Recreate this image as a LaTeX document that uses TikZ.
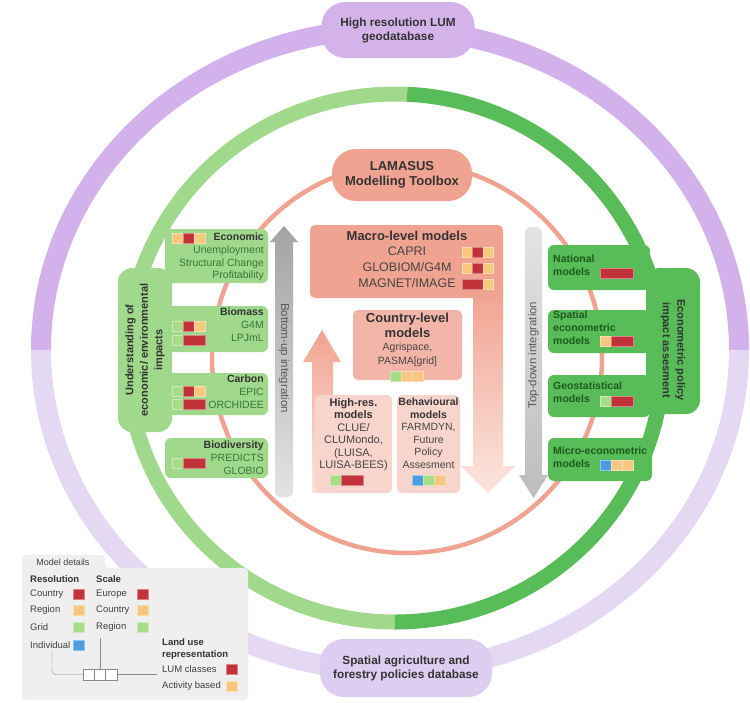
\documentclass[tikz,border=0pt]{standalone}
\usepackage{fontspec}
\setmainfont{Liberation Sans}
\usetikzlibrary{shapes.misc}
\definecolor{purA}{HTML}{D3B2EB}
\definecolor{purB}{HTML}{E5D8F3}
\definecolor{purP1}{HTML}{D4B3EA}
\definecolor{purP2}{HTML}{DDCDF0}
\definecolor{grL}{HTML}{A0D98C}
\definecolor{grD}{HTML}{58BC58}
\definecolor{salm}{HTML}{F1A391}
\definecolor{salmM}{HTML}{F3B5A7}
\definecolor{salmL}{HTML}{F7D5CC}
\definecolor{salmXL}{HTML}{FBE6DF}
\definecolor{cR}{HTML}{C2323A}
\definecolor{cO}{HTML}{F7C77F}
\definecolor{cG}{HTML}{A9DC86}
\definecolor{cB}{HTML}{4B9DE2}
\definecolor{tx}{HTML}{333333}
\definecolor{txI}{HTML}{454545}
\definecolor{txG}{HTML}{3A763A}
\definecolor{txD}{HTML}{1E5A20}
\definecolor{legbg}{HTML}{EFEFEF}
\definecolor{grayA}{HTML}{A3A3A3}
\definecolor{grayB}{HTML}{E3E3E3}
\definecolor{grayC}{HTML}{BDBDBD}
\definecolor{lline}{HTML}{8A8A8A}

\newcommand{\mcell}[4]{\path[fill=#4, draw=#4!60!white, line width=0.7pt] (#1,#2) rectangle ++(#3,10);}

\begin{document}
\begin{tikzpicture}[x=1pt,y=-1pt,
  pill/.style={rounded corners=24pt, inner sep=0pt, align=center, text=tx, font=\fontsize{11.8}{14}\selectfont\bfseries},
  lbox/.style={fill=grL, rounded corners=6pt, inner sep=0pt},
  rbox/.style={fill=grD, rounded corners=6pt, inner sep=0pt},
  cbox/.style={rounded corners=5pt, inner sep=0pt},
  ltext/.style={anchor=north east, align=right, inner sep=0pt, text=txG, font=\fontsize{10.5}{12.6}\selectfont},
  rtext/.style={anchor=north west, align=left, inner sep=0pt, text=txD, font=\fontsize{10.5}{13}\selectfont\bfseries},
  ctext/.style={anchor=north, align=center, inner sep=0pt, text=tx},
  arrtext/.style={inner sep=0pt, text=black!65, font=\fontsize{11.5}{13}\selectfont},
  legt/.style={anchor=west, inner sep=0pt, text=black!75, font=\fontsize{9.5}{11}\selectfont},
  legb/.style={anchor=west, inner sep=0pt, text=black!80, font=\fontsize{9.5}{11.5}\selectfont\bfseries, align=left},
  sch/.style={draw=lline, fill=white, minimum width=11.33pt, minimum height=11pt, inner sep=0pt},
]
\useasboundingbox (0,0) rectangle (750,702);
\fill[white] (0,0) rectangle (750,702);

% ---------- rings ----------
\draw[purA, line width=20pt] (390,350) ++(180:349 and 321) arc[start angle=180, end angle=360, x radius=349, y radius=321];
\draw[purB, line width=20pt] (390,350) ++(0:349 and 321) arc[start angle=0, end angle=180, x radius=349, y radius=321];

\draw[grL, line width=15pt] (395,358) ++(90:268 and 264) arc[start angle=90, end angle=272.6, x radius=268, y radius=264];
\draw[grD, line width=15pt] (395,358) ++(-87.4:268 and 264) arc[start angle=-87.4, end angle=90, x radius=268, y radius=264];

\draw[salm, line width=4.5pt] (407,358) circle[radius=195];

% ---------- pills ----------
\node[pill, fill=purP1, minimum width=153pt, minimum height=56pt] (topdb) at (398,30) {High resolution LUM\\geodatabase};
\node[pill, fill=purP2, minimum width=172pt, minimum height=58pt] (botdb) at (406,668) {Spatial agriculture and\\forestry policies database};
\node[pill, fill=salm, minimum width=140pt, minimum height=52pt, font=\fontsize{13}{15}\selectfont\bfseries] (lam) at (402,175) {LAMASUS\\Modelling Toolbox};

% ---------- left group ----------
\node[lbox, minimum width=54pt, minimum height=164pt, rounded corners=14pt] (undbar) at (145,350) {};
\node[lbox, minimum width=103pt, minimum height=54pt] (econ) at (216.5,256) {};
\node[lbox, minimum width=103pt, minimum height=46pt] (bio) at (216.5,329) {};
\node[lbox, minimum width=103pt, minimum height=42pt] (carb) at (216.5,394) {};
\node[lbox, minimum width=103pt, minimum height=40pt] (biod) at (216.5,458) {};
\node[rotate=90, align=center, inner sep=0pt, text=tx, font=\fontsize{11}{14.5}\selectfont\bfseries] (undT) at (145,350) {Understanding of\\economic/ environmental\\impacts};

\node[ltext] (econT) at (264,233) {\textcolor{tx}{\textbf{Economic}}\\Unemployment\\Structural Change\\Profitability};
\node[ltext] (bioT) at (264,308) {\textcolor{tx}{\textbf{Biomass}}\\G4M\\LPJmL};
\node[ltext] (carbT) at (264,375) {\textcolor{tx}{\textbf{Carbon}}\\EPIC\\ORCHIDEE};
\node[ltext] (biodT) at (264,441) {\textcolor{tx}{\textbf{Biodiversity}}\\PREDICTS\\GLOBIO};

\mcell{172}{233}{11}{cO}\mcell{183}{233}{11}{cR}\mcell{194}{233}{11}{cO}
\mcell{172}{321}{11}{cG}\mcell{183}{321}{11}{cR}\mcell{194}{321}{11}{cO}
\mcell{172}{335}{11}{cG}\mcell{183}{335}{22}{cR}
\mcell{172}{386}{11}{cG}\mcell{183}{386}{11}{cR}\mcell{194}{386}{11}{cO}
\mcell{172}{399}{11}{cG}\mcell{183}{399}{22}{cR}
\mcell{172}{458}{11}{cG}\mcell{183}{458}{22}{cR}

% ---------- right group ----------
\node[rbox, minimum width=54pt, minimum height=146pt, rounded corners=14pt] (ecobar) at (673,341) {};
\node[rbox, minimum width=102pt, minimum height=45pt] (nat) at (599,267.5) {};
\node[rbox, minimum width=102pt, minimum height=43pt] (spat) at (599,331.5) {};
\node[rbox, minimum width=102pt, minimum height=42pt] (geo) at (599,396) {};
\node[rbox, minimum width=104pt, minimum height=43pt] (micro) at (600,459.5) {};
\node[rotate=-90, align=center, inner sep=0pt, text=tx, font=\fontsize{11}{14.5}\selectfont\bfseries] (ecoT) at (673,350) {Econometric policy\\impact assesment};

\node[rtext] (natT) at (553,255) {National\\models};
\node[rtext] (spatT) at (553,311) {Spatial\\econometric\\models};
\node[rtext] (geoT) at (553,382) {Geostatistical\\models};
\node[rtext] (microT) at (553,447) {Micro-econometric\\models};

\mcell{600}{268}{33}{cR}
\mcell{600}{336}{11}{cO}\mcell{611}{336}{22}{cR}
\mcell{600}{396}{11}{cG}\mcell{611}{396}{22}{cR}
\mcell{600}{460}{11}{cB}\mcell{611}{460}{11}{cO}\mcell{622}{460}{11}{cO}

% ---------- grey integration arrows ----------
\shade[top color=grayA, bottom color=grayB] (284,226) -- (298,242) -- (293,242) [rounded corners=6pt] -- (293,497) -- (275,497) [sharp corners] -- (275,242) -- (270,242) -- cycle;
\node[arrtext, rotate=-90] (buT) at (284,358) {Bottom-up integration};
\shade[top color=grayB, bottom color=grayC] (525,250) [rounded corners=6pt] -- (525,227) -- (542,227) [sharp corners] -- (542,475) -- (548,475) -- (533.5,498) -- (519,475) -- (525,475) -- cycle;
\node[arrtext, rotate=90] (tdT) at (533.5,355) {Top-down integration};

% ---------- central salmon arrows and boxes ----------
\shade[top color=salm, bottom color=salmXL] (473,290) -- (503,290) -- (503,466) -- (515,466) -- (488,493) -- (461,466) -- (473,466) -- cycle;
\shade[top color=salm, bottom color=salmXL] (322,330) -- (341,362) -- (333,362) -- (333,493) -- (312,493) -- (312,362) -- (303,362) -- cycle;

\node[cbox, fill=salm, minimum width=193pt, minimum height=73pt] (macro) at (406.5,261.5) {};
\node[ctext, font=\fontsize{13}{15}\selectfont\bfseries] (macT) at (407,231) {Macro-level models};
\node[ctext, text=txI, font=\fontsize{12.5}{16}\selectfont] (macI) at (407,246.5) {CAPRI\\GLOBIOM/G4M\\MAGNET/IMAGE};
\mcell{462}{247}{10.5}{cO}\mcell{472.5}{247}{10.5}{cR}\mcell{483}{247}{10.5}{cO}
\mcell{462}{263}{10.5}{cO}\mcell{472.5}{263}{10.5}{cR}\mcell{483}{263}{10.5}{cO}
\mcell{462}{279}{21}{cR}\mcell{483}{279}{10.5}{cO}

\node[cbox, fill=salmM, minimum width=109pt, minimum height=70pt] (cty) at (407.5,345) {};
\node[ctext, font=\fontsize{13}{14.5}\selectfont\bfseries] (ctyT) at (407.5,313) {Country-level\\models};
\node[ctext, text=txI, font=\fontsize{10.5}{14}\selectfont] (ctyI) at (407.5,343) {Agrispace,\\PASMA[grid]};
\mcell{390}{371}{11}{cG}\mcell{401}{371}{11}{cO}\mcell{412}{371}{11}{cO}

\node[cbox, fill=salmL, minimum width=77pt, minimum height=98pt] (hires) at (353.5,444) {};
\node[ctext, text=txI, font=\fontsize{11}{12.5}\selectfont] (hiresT) at (353.5,398) {\textcolor{tx}{\textbf{High-res.}}\\\textcolor{tx}{\textbf{models}}\\CLUE/\\CLUMondo,\\(LUISA,\\LUISA-BEES)};
\mcell{330}{475}{11}{cG}\mcell{341}{475}{22}{cR}

\node[cbox, fill=salmL, minimum width=63pt, minimum height=98pt] (behav) at (428.5,444) {};
\node[ctext, text=txI, font=\fontsize{10.5}{12.5}\selectfont] (behavT) at (428.5,398) {\textcolor{tx}{\textbf{Behavioural}}\\\textcolor{tx}{\textbf{models}}\\FARMDYN,\\Future\\Policy\\Assesment};
\mcell{412}{475}{11}{cB}\mcell{423}{475}{11}{cG}\mcell{434}{475}{11}{cO}

% ---------- legend ----------
\path[fill=legbg, rounded corners=4pt] (22,700) -- (22,555) -- (105,555) -- (105,568) -- (248,568) -- (248,700) -- cycle;
\node[inner sep=0pt, text=black!75, font=\fontsize{9}{11}\selectfont] (legTab) at (63,562) {Model details};

\node[legb] (lRes) at (30,579) {Resolution};
\node[legt] (lC1) at (30,594) {Country};
\node[legt] (lR1) at (30,610) {Region};
\node[legt] (lG1) at (30,627) {Grid};
\node[legt] (lI1) at (30,645) {Individual};
\mcell{73}{589}{11}{cR}\mcell{73}{605}{11}{cO}\mcell{73}{622}{11}{cG}\mcell{73}{640}{11}{cB}

\node[legb] (lSc) at (96,579) {Scale};
\node[legt] (lE2) at (96,594) {Europe};
\node[legt] (lC2) at (96,610) {Country};
\node[legt] (lR2) at (96,627) {Region};
\mcell{137}{589}{11}{cR}\mcell{137}{605}{11}{cO}\mcell{137}{622}{11}{cG}

\node[legb] (lLU) at (162,649) {Land use\\representation};
\node[legt] (lLUM) at (162,669) {LUM classes};
\node[legt] (lAct) at (162,686) {Activity based};
\mcell{226}{664}{11}{cR}\mcell{226}{681}{11}{cO}

\node[sch] (sA) at (88.67,674.5) {};
\node[sch] (sB) at (100,674.5) {};
\node[sch] (sC) at (111.33,674.5) {};
\coordinate (indEnd) at (52,651);
\coordinate (scEnd) at (100,638);
\coordinate (luEnd) at (157,674.5);
\draw[lline, rounded corners=4pt] (sA.west) -| (indEnd);
\draw[lline] (sB.north) -- (scEnd);
\draw[lline] (sC.east) -- (luEnd);
\end{tikzpicture}
\end{document}
